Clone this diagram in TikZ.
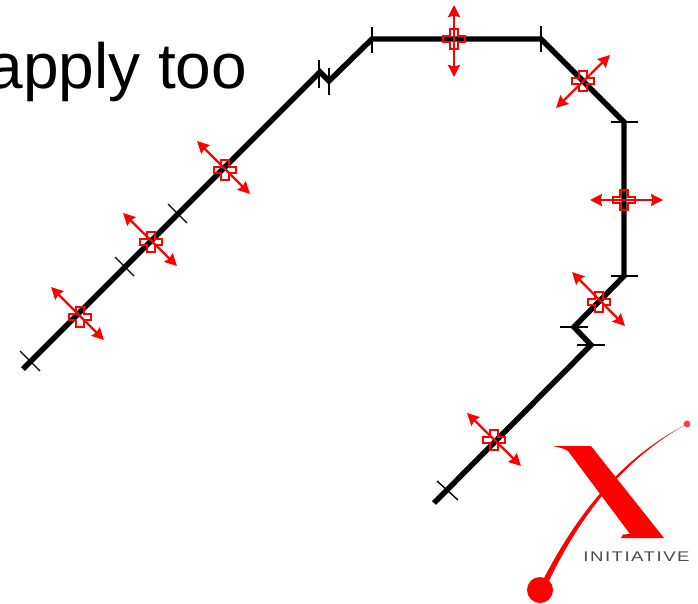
\documentclass[tikz,border=0pt]{standalone}
\usepackage{fontspec}
\setmainfont{Liberation Sans}
\newfontfamily\brandfont[LetterSpace=8]{Liberation Sans}
\usetikzlibrary{arrows.meta}
\definecolor{xred}{RGB}{255,0,0}
\tikzset{
  x=0.75pt,y=-0.75pt,
  wire/.style={line width=4.1pt,black,line join=miter,line cap=butt},
  tick/.style={line width=1.05pt,black},
  double arrow/.style={xred,line width=1.7pt,{Stealth[length=9pt,width=9pt,inset=1pt]}-{Stealth[length=9pt,width=9pt,inset=1pt]}},
  plus/.style={draw=xred,line width=1.2pt},
  pts/.style={coordinate}
}
\newcommand{\plusat}[1]{%
  \draw[plus,shift={(#1)}] (-4,-10) -- (4,-10) -- (4,-3) -- (11,-3) -- (11,3) -- (4,3) -- (4,10) -- (-4,10) -- (-4,3) -- (-11,3) -- (-11,-3) -- (-4,-3) -- cycle;}
\newcommand{\tickpair}[5]{%
  \node[pts] (#1a) at (#2,#3) {};
  \node[pts] (#1b) at (#4,#5) {};
  \draw[tick] (#1a) -- (#1b);}
\newcommand{\redpair}[5]{%
  \node[pts] (#1a) at (#2,#3) {};
  \node[pts] (#1b) at (#4,#5) {};
  \draw[double arrow] (#1a) -- (#1b);}
\begin{document}
\begin{tikzpicture}
\useasboundingbox[fill=white] (0,0) rectangle (698,603);
\node[anchor=base east,font=\fontsize{48}{52}\selectfont,inner sep=0pt] (title) at (247.5,88) {apply too};
% main wire
\node[pts] (p0) at (23,369) {};
\node[pts] (p1) at (320,72) {};
\node[pts] (p2) at (329,81) {};
\node[pts] (p3) at (372,39) {};
\node[pts] (p4) at (541,39) {};
\node[pts] (p5) at (624,122) {};
\node[pts] (p6) at (624,276) {};
\node[pts] (p7) at (574,327) {};
\node[pts] (p8) at (591,345) {};
\node[pts] (p9) at (434,503) {};
\draw[wire] (p0) -- (p1) -- (p2) -- (p3) -- (p4) -- (p5) -- (p6) -- (p7) -- (p8) -- (p9);
% ticks
\tickpair{t1}{20}{351}{40}{371}
\tickpair{t2}{115}{257}{134}{276}
\tickpair{t3}{168}{204}{187}{223}
\tickpair{t4}{319}{60}{319}{88}
\tickpair{t5}{329}{68}{329}{95}
\tickpair{t6}{372}{27}{372}{53}
\tickpair{t7}{541}{26}{541}{52}
\tickpair{t8}{611}{122}{638}{122}
\tickpair{t9}{611}{276}{638}{276}
\tickpair{t10}{560}{327}{588}{327}
\tickpair{t11}{577}{345}{605}{345}
\tickpair{t12}{437}{481}{458}{500}
% red arrows
\redpair{r1}{51}{287}{104}{340}
\redpair{r2}{123}{213}{177}{266}
\redpair{r3}{197}{141}{250}{194}
\redpair{r4}{454}{5}{454}{77}
\redpair{r5}{610}{55}{556}{108}
\redpair{r6}{590}{200}{663}{200}
\redpair{r7}{572}{272}{625}{326}
\redpair{r8}{467}{413}{521}{466}
\plusat{80,317}
\plusat{151,242}
\plusat{225,170}
\plusat{454,39}
\plusat{583,81}
\plusat{624,200}
\plusat{599,302}
\plusat{494,440}
% logo
\fill[xred] (553,446) -- (591,446) -- (664,538) -- (621,538) -- (623,534.5) -- (630,534) -- (568,451) .. controls (564,448) and (558,447.5) .. (553,446) -- cycle;
\fill[xred] (687,424) .. controls (640,448) and (590,490) .. (544,578) -- (549,581) .. controls (588,499) and (638,450.5) .. (687,424) -- cycle;
\fill[xred!75!white] (687,424) circle (3.4);
\fill[xred] (540,590) circle (13);
\node[anchor=center,font=\brandfont\fontsize{10.5}{12}\selectfont,text=black!70,inner sep=0pt,xscale=1.33] (brand) at (636.5,557) {INITIATIVE};
\end{tikzpicture}
\end{document}
